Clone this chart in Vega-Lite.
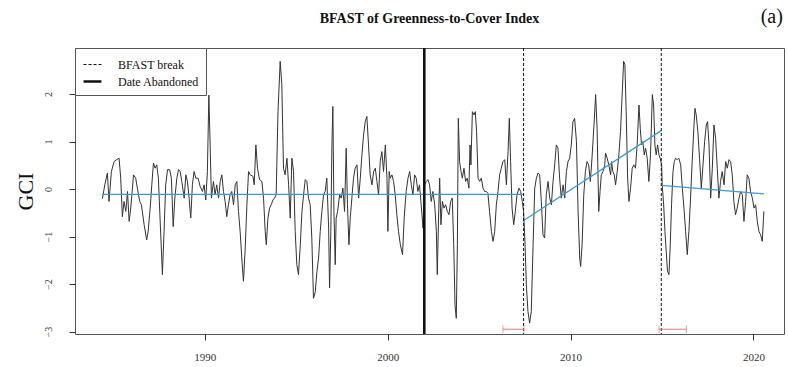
{
  "$schema": "https://vega.github.io/schema/vega-lite/v6.json",
  "autosize": "none",
  "width": 709,
  "height": 286,
  "padding": {"left": 75, "top": 48, "right": 4, "bottom": 33},
  "background": "white",
  "config": {
    "font": "Liberation Serif",
    "view": {"stroke": "#555", "strokeWidth": 1},
    "axis": {"grid": false, "domain": false, "tickColor": "#333", "labelColor": "#333", "labelFont": "Liberation Serif", "titleFont": "Liberation Serif"},
    "legend": {"labelFont": "Liberation Serif"}
  },
  "title": {"text": "BFAST of Greenness-to-Cover Index", "font": "Liberation Serif", "fontSize": 14, "fontWeight": "bold", "anchor": "middle", "frame": "group", "offset": -19, "color": "#111"},
  "datasets": {
    "series": [
      {"t":1984.40,"gci":-0.20},{"t":1984.53,"gci":0.09},{"t":1984.67,"gci":0.34},{"t":1984.76,"gci":-0.26},{"t":1984.89,"gci":0.37},{"t":1985.04,"gci":0.58},{"t":1985.18,"gci":0.62},{"t":1985.31,"gci":0.65},{"t":1985.40,"gci":0.23},{"t":1985.49,"gci":-0.58},{"t":1985.58,"gci":-0.26},{"t":1985.68,"gci":-0.47},{"t":1985.77,"gci":-0.05},{"t":1985.86,"gci":-0.68},{"t":1985.95,"gci":-0.40},{"t":1986.10,"gci":0.30},{"t":1986.22,"gci":0.23},{"t":1986.31,"gci":0.02},{"t":1986.44,"gci":-0.26},{"t":1986.53,"gci":-0.33},{"t":1986.68,"gci":-0.75},{"t":1986.82,"gci":-1.07},{"t":1986.90,"gci":-0.89},{"t":1987.01,"gci":-0.40},{"t":1987.10,"gci":0.09},{"t":1987.19,"gci":0.55},{"t":1987.28,"gci":0.44},{"t":1987.37,"gci":0.51},{"t":1987.46,"gci":0.23},{"t":1987.55,"gci":-0.61},{"t":1987.68,"gci":-1.80},{"t":1987.77,"gci":-0.89},{"t":1987.86,"gci":0.09},{"t":1987.96,"gci":0.41},{"t":1988.08,"gci":0.41},{"t":1988.17,"gci":0.23},{"t":1988.27,"gci":-0.79},{"t":1988.36,"gci":-0.19},{"t":1988.47,"gci":0.23},{"t":1988.56,"gci":0.41},{"t":1988.65,"gci":0.37},{"t":1988.74,"gci":0.16},{"t":1988.87,"gci":-0.19},{"t":1988.96,"gci":0.30},{"t":1989.05,"gci":0.16},{"t":1989.14,"gci":-0.19},{"t":1989.23,"gci":-0.61},{"t":1989.32,"gci":0.09},{"t":1989.41,"gci":0.37},{"t":1989.51,"gci":0.23},{"t":1989.63,"gci":0.23},{"t":1989.74,"gci":0.06},{"t":1989.87,"gci":-0.05},{"t":1989.96,"gci":0.09},{"t":1990.05,"gci":-0.23},{"t":1990.14,"gci":0.37},{"t":1990.22,"gci":1.98},{"t":1990.29,"gci":0.93},{"t":1990.36,"gci":-0.19},{"t":1990.47,"gci":0.16},{"t":1990.56,"gci":-0.12},{"t":1990.65,"gci":0.09},{"t":1990.75,"gci":-0.19},{"t":1990.84,"gci":0.16},{"t":1990.93,"gci":0.30},{"t":1991.02,"gci":-0.05},{"t":1991.11,"gci":-0.26},{"t":1991.20,"gci":-0.58},{"t":1991.29,"gci":-0.33},{"t":1991.38,"gci":-0.12},{"t":1991.47,"gci":-0.05},{"t":1991.57,"gci":-0.33},{"t":1991.66,"gci":0.09},{"t":1991.75,"gci":0.16},{"t":1991.84,"gci":-0.47},{"t":1991.93,"gci":-0.89},{"t":1992.02,"gci":-1.45},{"t":1992.11,"gci":-1.94},{"t":1992.20,"gci":-1.31},{"t":1992.30,"gci":-0.33},{"t":1992.39,"gci":0.37},{"t":1992.48,"gci":0.30},{"t":1992.63,"gci":0.27},{"t":1992.70,"gci":0.09},{"t":1992.79,"gci":0.93},{"t":1992.88,"gci":0.44},{"t":1992.99,"gci":0.20},{"t":1993.12,"gci":0.16},{"t":1993.21,"gci":-0.19},{"t":1993.30,"gci":-0.89},{"t":1993.36,"gci":-1.17},{"t":1993.45,"gci":-0.61},{"t":1993.54,"gci":-0.40},{"t":1993.63,"gci":-0.33},{"t":1993.72,"gci":-0.23},{"t":1993.81,"gci":-0.19},{"t":1993.90,"gci":-0.12},{"t":1994.00,"gci":1.63},{"t":1994.12,"gci":2.69},{"t":1994.21,"gci":2.20},{"t":1994.30,"gci":0.44},{"t":1994.39,"gci":0.30},{"t":1994.49,"gci":0.65},{"t":1994.58,"gci":0.09},{"t":1994.67,"gci":-0.61},{"t":1994.76,"gci":0.65},{"t":1994.85,"gci":0.37},{"t":1994.94,"gci":-0.89},{"t":1995.03,"gci":-1.59},{"t":1995.12,"gci":-1.80},{"t":1995.22,"gci":-1.17},{"t":1995.31,"gci":-0.47},{"t":1995.40,"gci":-0.12},{"t":1995.49,"gci":0.20},{"t":1995.58,"gci":0.16},{"t":1995.67,"gci":-0.19},{"t":1995.76,"gci":-0.33},{"t":1995.85,"gci":-1.03},{"t":1995.94,"gci":-2.30},{"t":1996.04,"gci":-2.16},{"t":1996.13,"gci":-1.73},{"t":1996.22,"gci":-1.45},{"t":1996.31,"gci":-0.89},{"t":1996.40,"gci":-0.47},{"t":1996.49,"gci":-0.12},{"t":1996.58,"gci":-0.05},{"t":1996.67,"gci":0.23},{"t":1996.77,"gci":-0.82},{"t":1996.82,"gci":-2.08},{"t":1996.89,"gci":-0.89},{"t":1996.95,"gci":0.93},{"t":1997.00,"gci":1.74},{"t":1997.06,"gci":-0.47},{"t":1997.13,"gci":-1.59},{"t":1997.18,"gci":-0.61},{"t":1997.26,"gci":-0.47},{"t":1997.37,"gci":-0.12},{"t":1997.46,"gci":-0.19},{"t":1997.55,"gci":0.02},{"t":1997.64,"gci":-0.47},{"t":1997.73,"gci":0.86},{"t":1997.80,"gci":-0.33},{"t":1997.88,"gci":-1.17},{"t":1997.95,"gci":-0.61},{"t":1998.04,"gci":-0.19},{"t":1998.13,"gci":0.23},{"t":1998.22,"gci":0.44},{"t":1998.32,"gci":0.51},{"t":1998.41,"gci":-0.19},{"t":1998.50,"gci":0.23},{"t":1998.59,"gci":0.72},{"t":1998.68,"gci":1.14},{"t":1998.77,"gci":1.42},{"t":1998.86,"gci":1.53},{"t":1998.95,"gci":0.93},{"t":1999.04,"gci":0.30},{"t":1999.14,"gci":0.09},{"t":1999.23,"gci":0.37},{"t":1999.32,"gci":0.44},{"t":1999.41,"gci":0.16},{"t":1999.50,"gci":-0.12},{"t":1999.59,"gci":0.58},{"t":1999.68,"gci":0.79},{"t":1999.77,"gci":0.37},{"t":1999.87,"gci":0.93},{"t":1999.96,"gci":0.23},{"t":2000.01,"gci":-0.89},{"t":2000.08,"gci":0.37},{"t":2000.14,"gci":0.23},{"t":2000.23,"gci":0.30},{"t":2000.32,"gci":0.16},{"t":2000.41,"gci":-0.12},{"t":2000.50,"gci":-0.54},{"t":2000.59,"gci":-0.89},{"t":2000.69,"gci":-1.17},{"t":2000.81,"gci":-1.38},{"t":2000.90,"gci":-0.61},{"t":2001.01,"gci":-0.05},{"t":2001.11,"gci":0.23},{"t":2001.20,"gci":0.37},{"t":2001.29,"gci":0.09},{"t":2001.38,"gci":-0.12},{"t":2001.47,"gci":0.30},{"t":2001.56,"gci":0.23},{"t":2001.65,"gci":-0.05},{"t":2001.74,"gci":0.09},{"t":2001.83,"gci":-0.33},{"t":2001.93,"gci":-0.82},{"t":2002.02,"gci":0.09},{"t":2002.11,"gci":0.16},{"t":2002.20,"gci":0.20},{"t":2002.29,"gci":0.09},{"t":2002.38,"gci":-0.26},{"t":2002.47,"gci":-0.05},{"t":2002.57,"gci":-0.33},{"t":2002.66,"gci":-0.89},{"t":2002.71,"gci":-1.80},{"t":2002.78,"gci":-0.61},{"t":2002.84,"gci":0.23},{"t":2002.91,"gci":-0.75},{"t":2002.99,"gci":-0.26},{"t":2003.08,"gci":-0.40},{"t":2003.17,"gci":-0.33},{"t":2003.26,"gci":-0.47},{"t":2003.35,"gci":-0.54},{"t":2003.44,"gci":-0.26},{"t":2003.53,"gci":-0.19},{"t":2003.61,"gci":-1.17},{"t":2003.68,"gci":-2.44},{"t":2003.75,"gci":-2.72},{"t":2003.81,"gci":-1.17},{"t":2003.86,"gci":1.49},{"t":2003.93,"gci":0.58},{"t":2004.01,"gci":0.37},{"t":2004.08,"gci":0.23},{"t":2004.17,"gci":0.44},{"t":2004.26,"gci":0.16},{"t":2004.35,"gci":0.23},{"t":2004.44,"gci":0.02},{"t":2004.50,"gci":0.93},{"t":2004.55,"gci":0.51},{"t":2004.63,"gci":1.63},{"t":2004.72,"gci":1.56},{"t":2004.79,"gci":1.63},{"t":2004.86,"gci":1.21},{"t":2004.94,"gci":0.23},{"t":2005.03,"gci":0.16},{"t":2005.12,"gci":0.23},{"t":2005.21,"gci":0.02},{"t":2005.30,"gci":-0.05},{"t":2005.39,"gci":-0.05},{"t":2005.48,"gci":-0.09},{"t":2005.57,"gci":-0.47},{"t":2005.67,"gci":-0.89},{"t":2005.76,"gci":-1.10},{"t":2005.85,"gci":-0.89},{"t":2005.94,"gci":-0.33},{"t":2006.03,"gci":-0.05},{"t":2006.12,"gci":0.30},{"t":2006.21,"gci":0.44},{"t":2006.30,"gci":0.58},{"t":2006.40,"gci":0.62},{"t":2006.49,"gci":0.09},{"t":2006.58,"gci":0.79},{"t":2006.65,"gci":1.49},{"t":2006.72,"gci":0.58},{"t":2006.80,"gci":-0.40},{"t":2006.89,"gci":-0.75},{"t":2006.98,"gci":-0.47},{"t":2007.07,"gci":-0.12},{"t":2007.18,"gci":0.02},{"t":2007.27,"gci":-0.05},{"t":2007.36,"gci":-0.26},{"t":2007.43,"gci":-0.47},{"t":2007.51,"gci":-1.17},{"t":2007.58,"gci":-2.01},{"t":2007.67,"gci":-2.58},{"t":2007.76,"gci":-2.82},{"t":2007.85,"gci":-2.58},{"t":2007.95,"gci":-1.17},{"t":2008.04,"gci":0.02},{"t":2008.13,"gci":0.23},{"t":2008.22,"gci":0.34},{"t":2008.31,"gci":0.30},{"t":2008.40,"gci":-0.26},{"t":2008.49,"gci":-0.96},{"t":2008.58,"gci":-1.03},{"t":2008.67,"gci":-0.12},{"t":2008.77,"gci":0.16},{"t":2008.86,"gci":-0.19},{"t":2008.95,"gci":-0.33},{"t":2009.04,"gci":0.16},{"t":2009.13,"gci":0.51},{"t":2009.22,"gci":0.93},{"t":2009.31,"gci":0.86},{"t":2009.40,"gci":0.23},{"t":2009.49,"gci":-0.19},{"t":2009.59,"gci":0.09},{"t":2009.68,"gci":-0.19},{"t":2009.77,"gci":0.37},{"t":2009.86,"gci":0.58},{"t":2009.95,"gci":0.65},{"t":2010.04,"gci":0.93},{"t":2010.13,"gci":1.42},{"t":2010.22,"gci":1.49},{"t":2010.32,"gci":1.00},{"t":2010.41,"gci":-0.47},{"t":2010.50,"gci":-1.45},{"t":2010.55,"gci":-1.63},{"t":2010.63,"gci":-1.17},{"t":2010.72,"gci":-0.12},{"t":2010.81,"gci":0.37},{"t":2010.90,"gci":0.58},{"t":2010.99,"gci":0.51},{"t":2011.08,"gci":0.16},{"t":2011.17,"gci":0.65},{"t":2011.28,"gci":1.35},{"t":2011.37,"gci":1.99},{"t":2011.45,"gci":1.28},{"t":2011.54,"gci":-0.47},{"t":2011.61,"gci":-0.05},{"t":2011.68,"gci":0.30},{"t":2011.77,"gci":0.37},{"t":2011.87,"gci":0.51},{"t":2011.91,"gci":0.76},{"t":2012.00,"gci":0.65},{"t":2012.09,"gci":0.51},{"t":2012.19,"gci":0.30},{"t":2012.24,"gci":0.58},{"t":2012.31,"gci":0.37},{"t":2012.39,"gci":0.30},{"t":2012.46,"gci":0.09},{"t":2012.55,"gci":0.37},{"t":2012.64,"gci":0.72},{"t":2012.73,"gci":1.21},{"t":2012.82,"gci":1.99},{"t":2012.90,"gci":2.69},{"t":2012.97,"gci":2.62},{"t":2013.04,"gci":1.63},{"t":2013.12,"gci":0.23},{"t":2013.19,"gci":-0.26},{"t":2013.28,"gci":0.02},{"t":2013.37,"gci":0.44},{"t":2013.46,"gci":0.51},{"t":2013.55,"gci":0.44},{"t":2013.64,"gci":0.93},{"t":2013.74,"gci":1.77},{"t":2013.81,"gci":1.28},{"t":2013.88,"gci":0.93},{"t":2013.95,"gci":1.00},{"t":2014.03,"gci":0.72},{"t":2014.10,"gci":0.86},{"t":2014.19,"gci":0.65},{"t":2014.28,"gci":0.16},{"t":2014.37,"gci":0.72},{"t":2014.47,"gci":1.99},{"t":2014.54,"gci":1.77},{"t":2014.61,"gci":0.93},{"t":2014.68,"gci":0.72},{"t":2014.76,"gci":0.93},{"t":2014.83,"gci":0.72},{"t":2014.90,"gci":0.65},{"t":2014.98,"gci":0.51},{"t":2015.01,"gci":0.09},{"t":2015.09,"gci":-0.33},{"t":2015.16,"gci":-0.89},{"t":2015.23,"gci":-1.31},{"t":2015.30,"gci":-1.73},{"t":2015.38,"gci":-1.80},{"t":2015.45,"gci":-1.17},{"t":2015.52,"gci":-0.33},{"t":2015.60,"gci":0.37},{"t":2015.67,"gci":0.58},{"t":2015.74,"gci":0.65},{"t":2015.83,"gci":0.62},{"t":2015.92,"gci":0.65},{"t":2016.02,"gci":0.51},{"t":2016.11,"gci":0.02},{"t":2016.20,"gci":-0.40},{"t":2016.29,"gci":-0.89},{"t":2016.38,"gci":-1.38},{"t":2016.47,"gci":-0.89},{"t":2016.56,"gci":-0.19},{"t":2016.65,"gci":0.58},{"t":2016.74,"gci":1.28},{"t":2016.80,"gci":1.70},{"t":2016.87,"gci":1.56},{"t":2016.96,"gci":1.21},{"t":2017.05,"gci":0.65},{"t":2017.15,"gci":0.02},{"t":2017.24,"gci":0.51},{"t":2017.33,"gci":1.00},{"t":2017.42,"gci":1.35},{"t":2017.49,"gci":1.42},{"t":2017.57,"gci":0.93},{"t":2017.66,"gci":-0.19},{"t":2017.75,"gci":0.44},{"t":2017.84,"gci":1.35},{"t":2017.93,"gci":1.07},{"t":2018.02,"gci":0.44},{"t":2018.11,"gci":-0.19},{"t":2018.20,"gci":0.16},{"t":2018.29,"gci":0.37},{"t":2018.39,"gci":0.09},{"t":2018.48,"gci":0.58},{"t":2018.57,"gci":0.44},{"t":2018.66,"gci":0.62},{"t":2018.75,"gci":0.58},{"t":2018.84,"gci":0.30},{"t":2018.93,"gci":-0.26},{"t":2019.02,"gci":-0.54},{"t":2019.11,"gci":-0.40},{"t":2019.21,"gci":-0.19},{"t":2019.30,"gci":-0.05},{"t":2019.39,"gci":-0.12},{"t":2019.48,"gci":-0.68},{"t":2019.57,"gci":-0.26},{"t":2019.66,"gci":0.30},{"t":2019.75,"gci":0.23},{"t":2019.84,"gci":-0.05},{"t":2019.94,"gci":-0.19},{"t":2020.03,"gci":-0.40},{"t":2020.12,"gci":-0.33},{"t":2020.21,"gci":-0.68},{"t":2020.30,"gci":-0.89},{"t":2020.39,"gci":-0.96},{"t":2020.48,"gci":-1.10},{"t":2020.57,"gci":-0.47}
    ],
    "trend": [
      {"seg":1,"t":1984.40,"gci":-0.11},{"seg":1,"t":2007.43,"gci":-0.11},
      {"seg":2,"t":2007.43,"gci":-0.66},{"seg":2,"t":2014.96,"gci":1.23},
      {"seg":3,"t":2014.96,"gci":0.08},{"seg":3,"t":2020.57,"gci":-0.10}
    ],
    "breaks": [
      {"t":2002.0,"kind":"Date Abandoned"},
      {"t":2007.43,"kind":"BFAST break"},
      {"t":2014.96,"kind":"BFAST break"}
    ],
    "ci": [
      {"lo":2006.30,"hi":2007.45,"gci":-2.95},
      {"lo":2014.84,"hi":2016.33,"gci":-2.95}
    ],
    "tag": [{"t":2021.0,"gci":3.62,"label":"(a)"}]
  },
  "layer": [
    {
      "data": {"name": "series"},
      "mark": {"type": "line", "color": "#333", "strokeWidth": 1, "clip": true},
      "encoding": {
        "x": {"field": "t", "type": "quantitative", "scale": {"domain": [1982.9, 2021.67], "nice": false, "zero": false},
              "axis": {"values": [1990, 2000, 2010, 2020], "format": "d", "title": null, "tickSize": 6, "labelPadding": 11, "labelFontSize": 11}},
        "y": {"field": "gci", "type": "quantitative", "scale": {"domain": [-3.05, 2.97], "nice": false, "zero": false},
              "axis": {"values": [-3, -2, -1, 0, 1, 2], "title": "GCI", "titleFontSize": 22, "titleFontWeight": "normal", "titleColor": "#111", "titlePadding": 6, "labelAngle": -90, "labelAlign": "center", "labelBaseline": "bottom", "labelPadding": 16, "tickSize": 6, "labelFontSize": 10}}
      }
    },
    {
      "data": {"name": "trend"},
      "mark": {"type": "line", "color": "#3d9ad1", "strokeWidth": 1.3},
      "encoding": {
        "x": {"field": "t", "type": "quantitative"},
        "y": {"field": "gci", "type": "quantitative"},
        "detail": {"field": "seg", "type": "nominal"}
      }
    },
    {
      "data": {"name": "breaks"},
      "mark": {"type": "rule", "color": "#111"},
      "encoding": {
        "x": {"field": "t", "type": "quantitative"},
        "strokeDash": {"field": "kind", "type": "nominal", "scale": {"domain": ["BFAST break", "Date Abandoned"], "range": [[3, 2], [1, 0]]},
                       "legend": {"title": null, "orient": "top-left", "offset": 0, "fillColor": "white", "strokeColor": "#555", "padding": 7, "rowPadding": 0, "labelFont": "Liberation Serif", "labelFontSize": 12, "labelColor": "#111", "symbolType": "stroke", "symbolSize": 320, "symbolStrokeColor": "#111", "labelOffset": 15}},
        "strokeWidth": {"field": "kind", "type": "nominal", "scale": {"domain": ["BFAST break", "Date Abandoned"], "range": [1, 2.6]},
                        "legend": {"title": null, "orient": "top-left", "offset": 0, "fillColor": "white", "strokeColor": "#555", "padding": 7, "rowPadding": 0, "labelFont": "Liberation Serif", "labelFontSize": 12, "labelColor": "#111", "symbolType": "stroke", "symbolSize": 320, "symbolStrokeColor": "#111", "labelOffset": 15}}
      }
    },
    {
      "data": {"name": "ci"},
      "mark": {"type": "errorbar", "color": "#e07a7a", "ticks": {"color": "#e07a7a", "size": 8}},
      "encoding": {
        "x": {"field": "lo", "type": "quantitative"},
        "x2": {"field": "hi"},
        "y": {"field": "gci", "type": "quantitative"}
      }
    },
    {
      "data": {"name": "tag"},
      "mark": {"type": "text", "font": "Liberation Serif", "fontSize": 20, "color": "#111", "clip": false},
      "encoding": {
        "x": {"field": "t", "type": "quantitative"},
        "y": {"field": "gci", "type": "quantitative"},
        "text": {"field": "label"}
      }
    }
  ]
}
